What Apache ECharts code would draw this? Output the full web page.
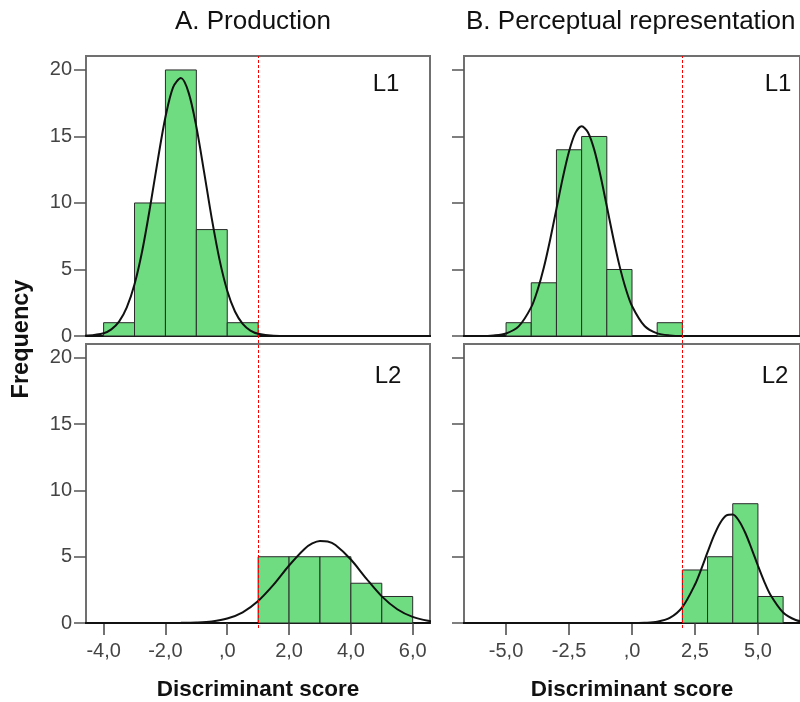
<!DOCTYPE html>
<html>
<head>
<meta charset="utf-8">
<title>Discriminant score histograms</title>
<script src="https://cdn.jsdelivr.net/npm/echarts@6/dist/echarts.min.js"></script>
<style>
  html, body { margin: 0; padding: 0; background: #fff; }
  #chart { width: 800px; height: 702px; }
</style>
</head>
<body>
<div id="chart"></div>
<script>
  var binWidth = 1;

  // A. Production
  var prodL1Bins = [-4, -3, -2, -1, 0];
  var prodL1Counts = [1, 10, 20, 8, 1];
  var prodL2Bins = [1, 2, 3, 4, 5];
  var prodL2Counts = [5, 5, 5, 3, 2];
  var prodCut = 1.0;

  // B. Perceptual representation
  var percL1Bins = [-5, -4, -3, -2, -1, 1];
  var percL1Counts = [1, 4, 14, 15, 5, 1];
  var percL2Bins = [2, 3, 4, 5];
  var percL2Counts = [4, 5, 9, 2];
  var percCut = 2.0;

  // fitted normal curves
  var prodL1CurveX = [-5, -4.5, -4, -3.75, -3.5, -3.25, -3, -2.75, -2.5, -2.25, -2, -1.75, -1.5, -1.25, -1, -0.75, -0.5, -0.25, 0, 0.25, 0.5, 0.75, 1, 1.5, 2, 3, 4, 5, 6, 7];
  var prodL1CurveY = [0, 0.03, 0.21, 0.50, 1.08, 2.15, 3.89, 6.41, 9.64, 13.19, 16.46, 18.71, 19.39, 18.30, 15.74, 12.34, 8.82, 5.74, 3.40, 1.84, 0.91, 0.41, 0.17, 0.02, 0, 0, 0, 0, 0, 0];
  var prodL2CurveX = [-5, -4, -3, -2, -1.5, -1, -0.5, 0, 0.5, 1, 1.5, 2, 2.5, 2.75, 3, 3.25, 3.5, 4, 4.5, 5, 5.5, 6, 6.5, 7];
  var prodL2CurveY = [0, 0, 0, 0, 0.01, 0.04, 0.12, 0.34, 0.81, 1.66, 2.89, 4.34, 5.59, 6.00, 6.19, 6.15, 5.88, 4.79, 3.35, 2.01, 1.04, 0.46, 0.17, 0.05];
  var percL1CurveX = [-7, -6.5, -6, -5.5, -5, -4.5, -4, -3.75, -3.5, -3.25, -3, -2.75, -2.5, -2.25, -2, -1.75, -1.5, -1.25, -1, -0.75, -0.5, -0.25, 0, 0.5, 1, 1.5, 2, 3, 4, 5, 6, 7];
  var percL1CurveY = [0, 0, 0, 0.04, 0.19, 0.72, 2.17, 3.45, 5.15, 7.24, 9.56, 11.87, 13.87, 15.25, 15.76, 15.32, 14.01, 12.05, 9.75, 7.42, 5.31, 3.57, 2.26, 0.75, 0.20, 0.04, 0, 0, 0, 0, 0, 0];
  var percL2CurveX = [-7, -6, -5, -4, -3, -2, -1, -0.5, 0, 0.5, 1, 1.5, 2, 2.5, 2.75, 3, 3.25, 3.5, 3.75, 4, 4.25, 4.5, 4.75, 5, 5.25, 5.5, 6, 6.5, 7];
  var percL2CurveY = [0, 0, 0, 0, 0, 0, 0, 0, 0, 0.02, 0.09, 0.38, 1.20, 2.90, 4.07, 5.34, 6.57, 7.55, 8.12, 8.18, 7.70, 6.79, 5.60, 4.32, 3.12, 2.11, 0.79, 0.23, 0.05];

  // axis ticks
  var prodTicks = [-4, -2, 0, 2, 4, 6];
  var prodTickLabels = ['-4,0', '-2,0', ',0', '2,0', '4,0', '6,0'];
  var percTicks = [-5, -2.5, 0, 2.5, 5];
  var percTickLabels = ['-5,0', '-2,5', ',0', '2,5', '5,0'];
  var freqTicks = [0, 5, 10, 15, 20];

  var font = "'Liberation Sans', Arial, sans-serif";
  var barFill = '#6fdc82';
  var frameColor = '#707070';

  function zip(xs, ys) {
    return xs.map(function (x, i) { return [x, ys[i]]; });
  }

  function xAxisFor(grid, min, max, ticks, labels, showLabels) {
    return {
      type: 'value', gridIndex: grid, min: min, max: max,
      splitLine: { show: false },
      axisLine: { show: true, onZero: false, lineStyle: { color: '#111', width: 2 } },
      axisTick: { show: showLabels, customValues: ticks, length: 12, lineStyle: { color: '#444', width: 1.5 } },
      axisLabel: {
        show: showLabels, customValues: ticks, margin: 18,
        fontFamily: font, fontSize: 20, color: '#444',
        formatter: function (v) { return labels[ticks.indexOf(v)]; }
      },
      name: showLabels ? 'Discriminant score' : '',
      nameLocation: 'middle', nameGap: 55,
      nameTextStyle: { fontFamily: font, fontSize: 22.5, fontWeight: 'bold', color: '#111' }
    };
  }

  function yAxisFor(grid, showLabels) {
    return {
      type: 'value', gridIndex: grid, min: 0, max: 21.05,
      splitLine: { show: false },
      axisLine: { show: false, onZero: false },
      axisTick: { show: true, customValues: freqTicks, length: 12, lineStyle: { color: '#555', width: 1.5 } },
      axisLabel: {
        show: showLabels, customValues: freqTicks, margin: 14,
        fontFamily: font, fontSize: 20, color: '#444'
      }
    };
  }

  function histSeries(grid, bins, counts) {
    return {
      type: 'custom', xAxisIndex: grid, yAxisIndex: grid, z: 2,
      data: zip(bins, counts),
      encode: { x: 0, y: 1 },
      renderItem: function (params, api) {
        var x0 = api.value(0);
        var p0 = api.coord([x0, api.value(1)]);
        var p1 = api.coord([x0 + binWidth, 0]);
        return {
          type: 'rect',
          shape: { x: p0[0], y: p0[1], width: p1[0] - p0[0], height: p1[1] - p0[1] },
          style: { fill: barFill, stroke: '#2a2a2a', lineWidth: 1 }
        };
      }
    };
  }

  function curveSeries(grid, xs, ys) {
    return {
      type: 'line', xAxisIndex: grid, yAxisIndex: grid, z: 3,
      data: zip(xs, ys), showSymbol: false, symbol: 'none',
      smooth: 0.3,
      lineStyle: { color: '#111', width: 2 }
    };
  }

  function cutSeries(grid, cut) {
    return {
      type: 'line', xAxisIndex: grid, yAxisIndex: grid, z: 5,
      data: [[cut, 0]], symbol: 'none',
      markLine: {
        silent: true, symbol: 'none', animation: false,
        label: { show: false },
        lineStyle: { color: '#ff0000', type: [3, 2], width: 1 },
        data: [{ xAxis: cut }]
      }
    };
  }

  var gridBox = { show: true, borderColor: frameColor, borderWidth: 2, backgroundColor: '#fff' };
  function gridAt(left, top, height) {
    return Object.assign({ left: left, top: top, width: 344, height: height }, gridBox);
  }

  var prodMin = -4.57, prodMax = 6.56;
  var percMin = -6.67, percMax = 6.67;

  var chart = echarts.init(document.getElementById('chart'), null, { renderer: 'canvas' });
  chart.setOption({
    animation: false,
    backgroundColor: '#fff',
    grid: [
      gridAt(86, 56, 280),
      gridAt(86, 344, 280),
      gridAt(464, 56, 280),
      gridAt(464, 344, 280),
      { left: 86, top: 56, width: 344, height: 572, show: false },
      { left: 464, top: 56, width: 344, height: 572, show: false }
    ],
    xAxis: [
      xAxisFor(0, prodMin, prodMax, prodTicks, prodTickLabels, false),
      xAxisFor(1, prodMin, prodMax, prodTicks, prodTickLabels, true),
      xAxisFor(2, percMin, percMax, percTicks, percTickLabels, false),
      xAxisFor(3, percMin, percMax, percTicks, percTickLabels, true),
      { type: 'value', gridIndex: 4, min: prodMin, max: prodMax, show: false },
      { type: 'value', gridIndex: 5, min: percMin, max: percMax, show: false }
    ],
    yAxis: [
      yAxisFor(0, true),
      yAxisFor(1, true),
      yAxisFor(2, false),
      yAxisFor(3, false),
      { type: 'value', gridIndex: 4, min: 0, max: 1, show: false },
      { type: 'value', gridIndex: 5, min: 0, max: 1, show: false }
    ],
    series: [
      histSeries(0, prodL1Bins, prodL1Counts),
      curveSeries(0, prodL1CurveX, prodL1CurveY),
      histSeries(1, prodL2Bins, prodL2Counts),
      curveSeries(1, prodL2CurveX, prodL2CurveY),
      histSeries(2, percL1Bins, percL1Counts),
      curveSeries(2, percL1CurveX, percL1CurveY),
      histSeries(3, percL2Bins, percL2Counts),
      curveSeries(3, percL2CurveX, percL2CurveY),
      cutSeries(4, prodCut),
      cutSeries(5, percCut)
    ],
    graphic: [
      { type: 'text', x: 253, y: 22, style: { text: 'A. Production', font: '26px ' + font, fill: '#111', textAlign: 'center', textVerticalAlign: 'middle' } },
      { type: 'text', x: 466, y: 22, style: { text: 'B. Perceptual representation', font: '26px ' + font, fill: '#111', textAlign: 'left', textVerticalAlign: 'middle' } },
      { type: 'text', x: 22, y: 339, rotation: Math.PI / 2, style: { text: 'Frequency', font: 'bold 23.5px ' + font, fill: '#111', textAlign: 'center', textVerticalAlign: 'middle' } },
      { type: 'text', x: 386, y: 84, z: 10, style: { text: 'L1', font: '24px ' + font, fill: '#111', textAlign: 'center', textVerticalAlign: 'middle' } },
      { type: 'text', x: 388, y: 376, z: 10, style: { text: 'L2', font: '24px ' + font, fill: '#111', textAlign: 'center', textVerticalAlign: 'middle' } },
      { type: 'text', x: 778, y: 84, z: 10, style: { text: 'L1', font: '24px ' + font, fill: '#111', textAlign: 'center', textVerticalAlign: 'middle' } },
      { type: 'text', x: 775, y: 376, z: 10, style: { text: 'L2', font: '24px ' + font, fill: '#111', textAlign: 'center', textVerticalAlign: 'middle' } }
    ]
  });
</script>
</body>
</html>
